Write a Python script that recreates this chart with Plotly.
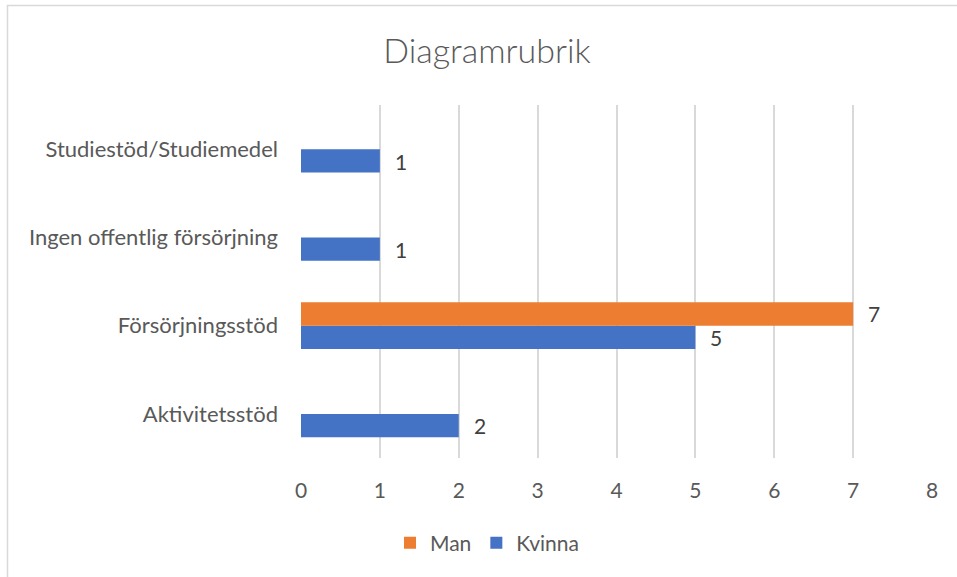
import plotly.graph_objects as go

categories = ["Aktivitetsstöd", "Försörjningsstöd", "Ingen offentlig försörjning", "Studiestöd/Studiemedel"]
kvinna = [2, 5, 1, 1]
man = [None, 7, None, None]
x_ticks = [0, 1, 2, 3, 4, 5, 6, 7, 8]

FONT = "Lato"
TXT = "#595959"
LBL = "#404040"

fig = go.Figure()
fig.add_trace(go.Bar(name="Kvinna", y=categories, x=kvinna, orientation="h",
                     marker=dict(color="#4472C4", line=dict(width=0))))
fig.add_trace(go.Bar(name="Man", y=categories, x=man, orientation="h",
                     marker=dict(color="#ED7D31", line=dict(width=0))))

annotations = []
for cat, v in zip(categories, kvinna):
    if v is not None:
        annotations.append(dict(x=v, y=cat, xref="x", yref="y", text=str(v), showarrow=False,
                                xanchor="center", yanchor="middle", xshift=21, yshift=-12,
                                font=dict(family=FONT, size=21, color=LBL)))
for cat, v in zip(categories, man):
    if v is not None:
        annotations.append(dict(x=v, y=cat, xref="x", yref="y", text=str(v), showarrow=False,
                                xanchor="center", yanchor="middle", xshift=21, yshift=12,
                                font=dict(family=FONT, size=21, color=LBL)))

W, H = 957, 577
L, R, T, B = 301, 25, 105, 119
pw, ph = W - L - R, H - T - B

def px2paper_x(px):
    return (px - L) / pw

def px2paper_y(py):
    return (H - B - py) / ph

fig.update_layout(
    width=W, height=H,
    margin=dict(l=L, r=R, t=T, b=B, autoexpand=False),
    paper_bgcolor="white", plot_bgcolor="white",
    barmode="group", bargap=0.47, bargroupgap=0,
    title=dict(text="Diagramrubrik", x=487 / W, xanchor="center", xref="container",
               y=1 - 51 / H, yanchor="middle", yref="container",
               font=dict(family=FONT, size=34, color=TXT, weight=300)),
    font=dict(family=FONT, size=21, color=TXT),
    xaxis=dict(range=[0, 8], tickvals=x_ticks, ticktext=[str(t) for t in x_ticks],
               showgrid=True, gridcolor="#D9D9D9", gridwidth=1.5, zeroline=False,
               showline=False, ticks="", ticklabelstandoff=18,
               tickfont=dict(family=FONT, size=21, color=TXT), fixedrange=True),
    yaxis=dict(type="category", categoryorder="array", categoryarray=categories,
               showgrid=False, zeroline=False, showline=False, ticks="",
               ticklabelstandoff=22, tickfont=dict(family=FONT, size=22, color=TXT)),
    legend=dict(orientation="h", x=px2paper_x(487), xanchor="center",
                y=px2paper_y(543), yanchor="middle", traceorder="reversed",
                font=dict(family=FONT, size=21, color=TXT), itemwidth=30),
    showlegend=True,
    annotations=annotations,
    shapes=[dict(type="rect", xref="paper", yref="paper",
                 x0=px2paper_x(7.5), x1=px2paper_x(970),
                 y0=px2paper_y(590), y1=px2paper_y(5.5),
                 line=dict(color="#D9D9D9", width=1.5), layer="below")],
)

fig.write_html("out.html", config={"displayModeBar": False},
               post_script="document.body.style.margin='0';document.body.style.overflow='hidden';")
